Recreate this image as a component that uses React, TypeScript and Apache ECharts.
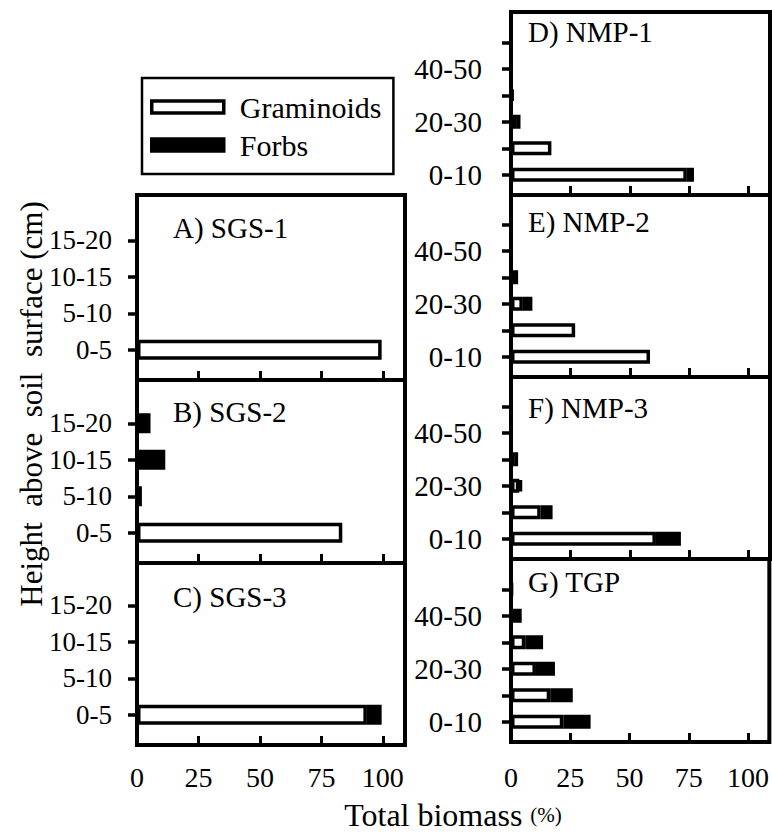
import React, { useEffect, useRef } from "react";
import * as echarts from "echarts";

// ---- data ----
const shortgrassHeights = ["0-5", "5-10", "10-15", "15-20"];
const mixedHeights = ["0-10", "10-20", "20-30", "30-40", "40-50", "50-60"];
const xTickValues = [0, 25, 50, 75, 100];
const panelTitles = ["A) SGS-1", "B) SGS-2", "C) SGS-3", "D) NMP-1", "E) NMP-2", "F) NMP-3", "G) TGP"];
const seriesNames = ["Graminoids", "Forbs"];

const sgs1Graminoids = [99.5, 0, 0, 0];
const sgs1Forbs = [0, 0, 0, 0];
const sgs2Graminoids = [83.5, 0, 0, 0];
const sgs2Forbs = [0, 2, 11.5, 5.5];
const sgs3Graminoids = [93.5, 0, 0, 0];
const sgs3Forbs = [6, 0, 0, 0];
const nmp1Graminoids = [74, 17, 2.5, 0, 0, 0];
const nmp1Forbs = [3, 0, 1.5, 1, 0, 0];
const nmp2Graminoids = [58.5, 27, 5, 0, 0, 0];
const nmp2Forbs = [0, 0, 4, 3, 0, 0];
const nmp3Graminoids = [61, 12.5, 3.5, 3, 0, 0];
const nmp3Forbs = [10.5, 5, 1, 0, 0, 0];
const tgpGraminoids = [22, 16.5, 10.5, 6, 0, 0];
const tgpForbs = [11.5, 9.5, 8, 7.5, 4.5, 0.5];

const FONT = "Liberation Serif";

type Panel = {
  title: string;
  cats: string[];
  g: number[];
  f: number[];
  left: number;
  top: number;
  width: number;
  height: number;
  right: boolean;
  showX: boolean;
};

const panels: Panel[] = [
  { title: panelTitles[0], cats: shortgrassHeights, g: sgs1Graminoids, f: sgs1Forbs, left: 137, top: 195, width: 268, height: 185, right: false, showX: false },
  { title: panelTitles[1], cats: shortgrassHeights, g: sgs2Graminoids, f: sgs2Forbs, left: 137, top: 380, width: 268, height: 183, right: false, showX: false },
  { title: panelTitles[2], cats: shortgrassHeights, g: sgs3Graminoids, f: sgs3Forbs, left: 137, top: 563, width: 268, height: 182, right: false, showX: true },
  { title: panelTitles[3], cats: mixedHeights, g: nmp1Graminoids, f: nmp1Forbs, left: 511, top: 12, width: 259, height: 183, right: true, showX: false },
  { title: panelTitles[4], cats: mixedHeights, g: nmp2Graminoids, f: nmp2Forbs, left: 511, top: 195, width: 259, height: 182, right: true, showX: false },
  { title: panelTitles[5], cats: mixedHeights, g: nmp3Graminoids, f: nmp3Forbs, left: 511, top: 377, width: 259, height: 182, right: true, showX: false },
  { title: panelTitles[6], cats: mixedHeights, g: tgpGraminoids, f: tgpForbs, left: 511, top: 559, width: 259, height: 183, right: true, showX: true },
];

function serif(size: number) {
  return { fontFamily: FONT, fontSize: size, fontWeight: "normal", fontStyle: "normal", color: "#000" };
}

function buildOption() {
  const grid: any[] = [];
  const xAxis: any[] = [];
  const yAxis: any[] = [];
  const series: any[] = [];
  const title: any[] = [];

  panels.forEach((p, i) => {
    const fi = 2 * i;
    const di = 2 * i + 1;
    const frameBottom = p.top + p.height;
    const dataBottom = p.right ? frameBottom - 7 : frameBottom - 12;
    const dataHeight = p.right ? 159 : 146;

    grid.push({
      left: p.left,
      top: p.top,
      width: p.width,
      height: p.height,
      show: true,
      borderColor: "#000",
      borderWidth: 4,
      backgroundColor: "transparent",
      containLabel: false,
    });
    grid.push({
      left: p.left,
      top: dataBottom - dataHeight,
      width: p.width,
      height: dataHeight,
      show: false,
      containLabel: false,
    });

    xAxis.push({
      gridIndex: fi,
      type: "value",
      min: 0,
      max: 109,
      interval: 25,
      axisLine: { show: false },
      axisTick: {
        show: true,
        inside: true,
        length: 9,
        customValues: xTickValues,
        lineStyle: { color: "#000", width: 3 },
      },
      axisLabel: {
        show: p.showX,
        customValues: xTickValues,
        formatter: (v: number) => (xTickValues.includes(v) ? "{t|" + v + "}" : ""),
        margin: p.right ? 21 : 18,
        ...serif(28),
        rich: { t: serif(28) },
      },
      splitLine: { show: false },
    });
    yAxis.push({ gridIndex: fi, type: "value", min: 0, max: 1, show: false });

    xAxis.push({ gridIndex: di, type: "value", min: 0, max: 109, show: false });
    const ySize = p.right ? 29 : 27;
    yAxis.push({
      gridIndex: di,
      type: "category",
      data: p.cats,
      axisLine: { show: false },
      axisTick: {
        show: true,
        alignWithLabel: true,
        interval: 0,
        length: 9,
        lineStyle: { color: "#000", width: 3.5 },
      },
      axisLabel: {
        interval: p.right ? 1 : 0,
        margin: p.right ? 29 : 25,
        formatter: "{t|{value}}",
        ...serif(ySize),
        rich: { t: serif(ySize) },
      },
      splitLine: { show: false },
    });

    const barWidth = p.right ? 14 : 20;
    series.push({
      type: "bar",
      name: seriesNames[0],
      xAxisIndex: di,
      yAxisIndex: di,
      stack: "panel" + i,
      barWidth,
      data: p.g.map((v) => (v ? v : "-")),
      itemStyle: { color: "#fff", borderColor: "#000", borderWidth: 3.5 },
      emphasis: { disabled: true },
    });
    series.push({
      type: "bar",
      name: seriesNames[1],
      xAxisIndex: di,
      yAxisIndex: di,
      stack: "panel" + i,
      barWidth,
      data: p.f.map((v) => (v ? v : "-")),
      itemStyle: { color: "#000", borderColor: "#000", borderWidth: 3.5 },
      emphasis: { disabled: true },
    });

    const titleCenterY = [228, 412, 597, 32, 222, 408, 582][i];
    title.push({
      text: p.title,
      left: p.right ? 528 : 173,
      top: titleCenterY - 15,
      padding: 0,
      textStyle: serif(29),
    });
  });

  return {
    animation: false,
    backgroundColor: "#fff",
    textStyle: { fontFamily: FONT },
    title,
    grid,
    xAxis,
    yAxis,
    series,
    legend: {
      data: [
        { name: seriesNames[0], itemStyle: { color: "#fff", borderColor: "#000", borderWidth: 3.5 } },
        { name: seriesNames[1], itemStyle: { color: "#000", borderColor: "#000", borderWidth: 3.5 } },
      ],
      orient: "vertical",
      left: 142,
      top: 78,
      icon: "rect",
      itemWidth: 72,
      itemHeight: 12,
      itemGap: 8,
      padding: [14, 12, 14, 8],
      borderColor: "#000",
      borderWidth: 2.5,
      selectedMode: false,
      formatter: "{t|{name}}",
      textStyle: {
        ...serif(30),
        rich: { t: { ...serif(30), padding: [0, 0, 0, 11] } },
      },
    },
    graphic: [
      {
        type: "text",
        x: 31,
        y: 404,
        rotation: Math.PI / 2,
        style: {
          text: "Height  above  soil  surface (cm)",
          font: "31px Liberation Serif",
          fill: "#000",
          align: "center",
          verticalAlign: "middle",
        },
      },
      {
        type: "text",
        x: 453,
        y: 815,
        style: {
          text: "{a|Total biomass }{b|(%)}",
          align: "center",
          verticalAlign: "middle",
          rich: {
            a: { fontFamily: FONT, fontSize: 32, fill: "#000" },
            b: { fontFamily: FONT, fontSize: 21, fill: "#000" },
          },
        },
      },
    ],
  };
}

export default function App() {
  const ref = useRef<HTMLDivElement>(null);
  useEffect(() => {
    document.body.style.margin = "0";
    if (!ref.current) return;
    const chart = echarts.init(ref.current, null, { renderer: "svg" });
    chart.setOption(buildOption() as any);
    return () => chart.dispose();
  }, []);
  return (
    <div
      ref={ref}
      style={{ position: "absolute", left: 0, top: 0, width: 772, height: 834, background: "#fff" }}
    />
  );
}
